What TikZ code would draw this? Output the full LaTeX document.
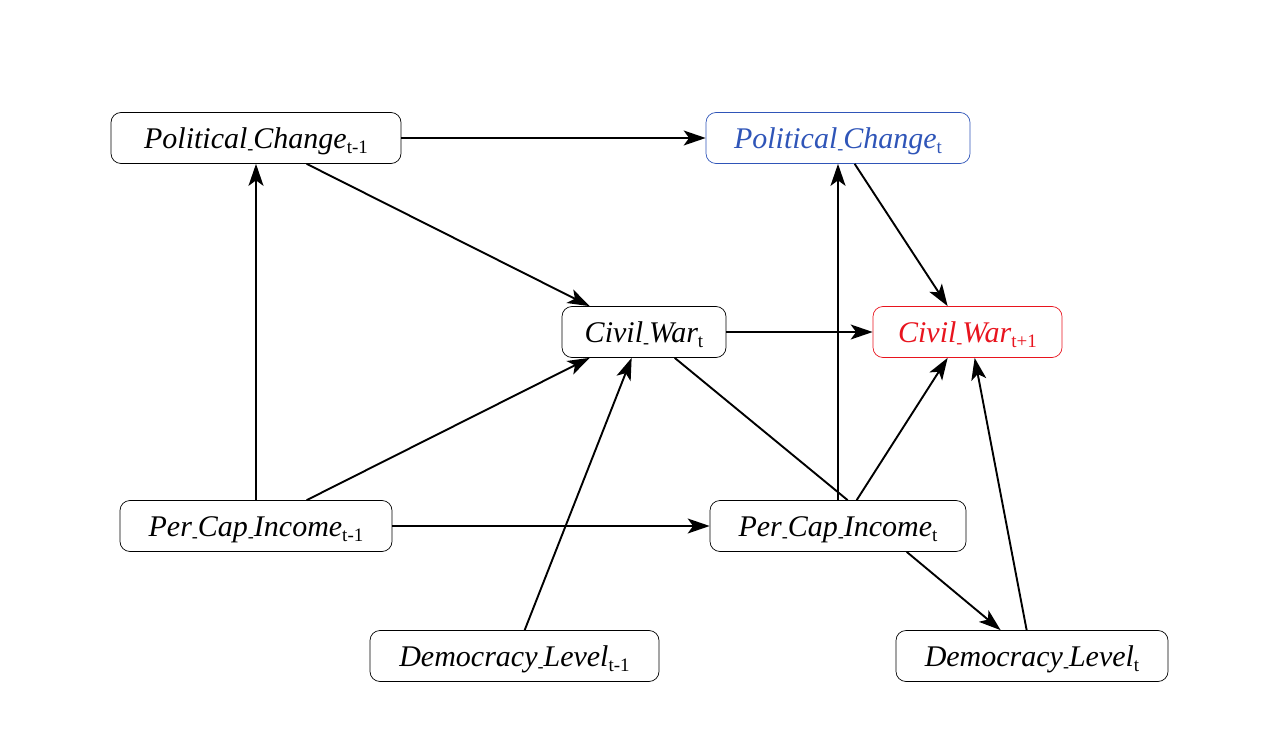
\documentclass[tikz,border=0pt]{standalone}
\usepackage{fontspec}
\setmainfont{Liberation Serif}
\usetikzlibrary{arrows.meta,calc}
\definecolor{pcblue}{HTML}{2F55B8}
\definecolor{cwred}{HTML}{E8141E}
\newcommand{\usx}{\raisebox{-0.45ex}{\fontsize{18}{18}\selectfont\upshape -}}
\newcommand{\subx}[1]{\raisebox{-0.35ex}{\fontsize{19}{19}\selectfont\upshape #1}}
\begin{document}
\begin{tikzpicture}[x=1pt,y=1pt,
  box/.style={draw, rounded corners=10pt, line width=0.7pt, inner sep=0pt,
    font=\fontsize{30}{34}\selectfont\itshape, minimum height=51pt,
    text height=24pt, text depth=3.5pt},
  arr/.style={line width=1.9pt, -{Stealth[length=22pt,width=15pt,inset=5.5pt]}},
  plain/.style={line width=1.9pt}]
\path[use as bounding box] (0,0) rectangle (1280,-746);
\node[box, minimum width=290pt] (pc1) at (256,-138) {Political\usx Change\subx{t-1}};
\node[box, minimum width=264pt, draw=pcblue, text=pcblue] (pc2) at (838,-138) {Political\usx Change\subx{t}};
\node[box, minimum width=164pt] (cw) at (644,-332) {Civil\usx War\subx{t}};
\node[box, minimum width=189pt, draw=cwred, text=cwred] (cw2) at (967.5,-332) {Civil\usx War\subx{t+1}};
\node[box, minimum width=272pt] (pci1) at (256,-526) {Per\usx Cap\usx Income\subx{t-1}};
\node[box, minimum width=256pt] (pci2) at (838,-526) {Per\usx Cap\usx Income\subx{t}};
\node[box, minimum width=289pt] (dl1) at (514.5,-656) {Democracy\usx Level\subx{t-1}};
\node[box, minimum width=272pt] (dl2) at (1032,-656) {Democracy\usx Level\subx{t}};

\draw[arr] (pc1.east) -- (pc2.west);
\draw[arr] ($(pc1.south west)+(196,0)$) -- ($(cw.north west)+(28,0)$);
\draw[arr] (pci1.north) -- (pc1.south);
\draw[arr] ($(pci1.north west)+(187,0)$) -- ($(cw.south west)+(28,0)$);
\draw[arr] (pci1.east) -- (pci2.west);
\draw[arr] ($(dl1.north west)+(155,0)$) -- ($(cw.south west)+(70,0)$);
\draw[arr] (cw.east) -- (cw2.west);
\draw[plain] ($(cw.south west)+(113,0)$) -- ($(pci2.north west)+(138,0)$);
\draw[arr] (pci2.north) -- (pc2.south);
\draw[arr] ($(pci2.north west)+(147,0)$) -- ($(cw2.south west)+(75,0)$);
\draw[arr] ($(pci2.south west)+(197,0)$) -- ($(dl2.north west)+(105,0)$);
\draw[arr] ($(dl2.north west)+(131,0)$) -- ($(cw2.south west)+(102,0)$);
\draw[arr] ($(pc2.south west)+(149,0)$) -- ($(cw2.north west)+(75,0)$);
\end{tikzpicture}
\end{document}
